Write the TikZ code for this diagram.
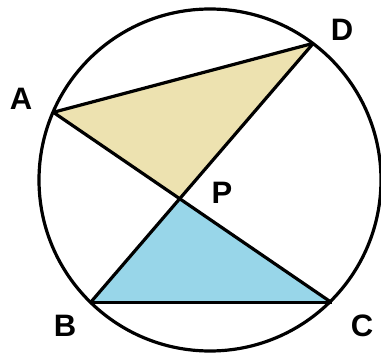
\documentclass[tikz,border=0pt]{standalone}
\usepackage{fontspec}
\setmainfont{Liberation Sans}
\usetikzlibrary{intersections}
\definecolor{tanfill}{RGB}{237,226,176}
\definecolor{bluefill}{RGB}{152,214,233}
\begin{document}
\begin{tikzpicture}[x=1pt,y=-1pt,line width=3.2pt,line join=round,
  lbl/.style={font=\fontsize{31}{31}\selectfont\bfseries,inner sep=0pt}]
\useasboundingbox (0,0) rectangle (381,356);
\coordinate (O) at (210,180);
\coordinate (A) at (53.3,112.3);
\coordinate (D) at (313.3,43.3);
\coordinate (B) at (90.5,302.5);
\coordinate (C) at (331.5,302.5);
\coordinate (P) at (intersection of A--C and D--B);
\fill[tanfill] (A) -- (D) -- (P) -- cycle;
\fill[bluefill] (B) -- (C) -- (P) -- cycle;
\draw (O) circle[radius=171pt];
\draw (A) -- (D);
\draw (A) -- (C);
\draw (D) -- (B);
\draw (B) -- (C);
\node[lbl] (la) at (21,99) {A};
\node[lbl] (ld) at (342,30) {D};
\node[lbl] (lp) at (222,193) {P};
\node[lbl] (lb) at (65,326) {B};
\node[lbl] (lc) at (362,326) {C};
\end{tikzpicture}
\end{document}
